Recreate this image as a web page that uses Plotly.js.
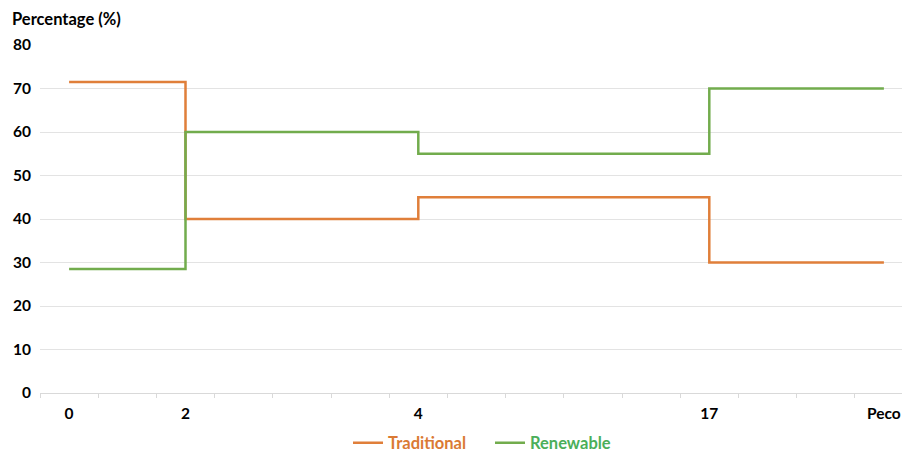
<!DOCTYPE html>
<html>
<head>
<meta charset="utf-8">
<script src="https://cdn.plot.ly/plotly-3.0.1.min.js"></script>
<style>html,body{margin:0;padding:0;background:#fff;}#chart{width:902px;height:454px;}</style>
</head>
<body>
<div id="chart"></div>
<script>
// Category slots along the x axis (15 equal slots); labelled ones below
const slotCount = 15;
const xSlots = [0, 2, 6, 11, 14];
const xLabels = ['0', '2', '4', '17', 'Peco'];
const traditional = [71.5, 40, 45, 30, 30];
const renewable = [28.5, 60, 55, 70, 70];
const yTicks = [0, 10, 20, 30, 40, 50, 60, 70, 80];

const orange = '#E07F3A';
const green = '#72AC4D';
const fontFam = 'Lato, "Liberation Sans", sans-serif';

const traces = [
  {x: xSlots, y: traditional, type: 'scatter', mode: 'lines', line: {shape: 'hv', color: orange, width: 2.5},
   name: '<span style="color:#DA7A34"><b>Traditional</b></span>'},
  {x: xSlots, y: renewable, type: 'scatter', mode: 'lines', line: {shape: 'hv', color: green, width: 2.5},
   name: '<span style="color:#4BAF5A"><b>Renewable</b></span>'}
];

const layout = {
  width: 902, height: 454,
  margin: {l: 40, r: 0, t: 45, b: 61, autoexpand: false},
  paper_bgcolor: '#fff', plot_bgcolor: '#fff',
  font: {family: fontFam, size: 15, color: '#000'},
  title: {text: '<b>Percentage (%)</b>', x: 12/902, xref: 'container', xanchor: 'left',
          y: 1 - 19/454, yref: 'container', yanchor: 'middle', font: {family: fontFam, size: 16.5, color: '#000'}},
  xaxis: {
    range: [-0.5, -0.5 + (902 - 40) / 58.2], fixedrange: true, automargin: false,
    tickmode: 'array', tickvals: xSlots, ticktext: xLabels.map(t => '<b>' + t + '</b>'),
    ticks: '', showgrid: false, zeroline: false,
    showline: true, linecolor: '#d9d9d9', linewidth: 1,
    ticklabelstandoff: 6,
    tickfont: {family: fontFam, size: 15.5, color: '#000'},
    minor: {tickmode: 'linear', tick0: -0.5, dtick: 1, ticks: 'outside', ticklen: 4, tickcolor: '#d9d9d9', showgrid: false}
  },
  yaxis: {
    range: [0, 80], fixedrange: true, automargin: false,
    tickmode: 'array', tickvals: yTicks, ticktext: yTicks.map(t => '<b>' + t + '</b>'),
    showgrid: true, gridcolor: '#e3e3e3', gridwidth: 1, zeroline: false,
    ticks: '', ticklabelstandoff: 8,
    tickfont: {family: fontFam, size: 15.5, color: '#000'}
  },
  showlegend: true,
  legend: {orientation: 'h', xref: 'container', x: 348/902, xanchor: 'left',
           yref: 'container', y: 1 - 443/454, yanchor: 'middle',
           font: {family: fontFam, size: 16.5}, itemwidth: 30, entrywidth: 97, entrywidthmode: 'pixels',
           traceorder: 'normal'}
};

Plotly.newPlot('chart', traces, layout, {displayModeBar: false, staticPlot: true});
</script>
</body>
</html>
